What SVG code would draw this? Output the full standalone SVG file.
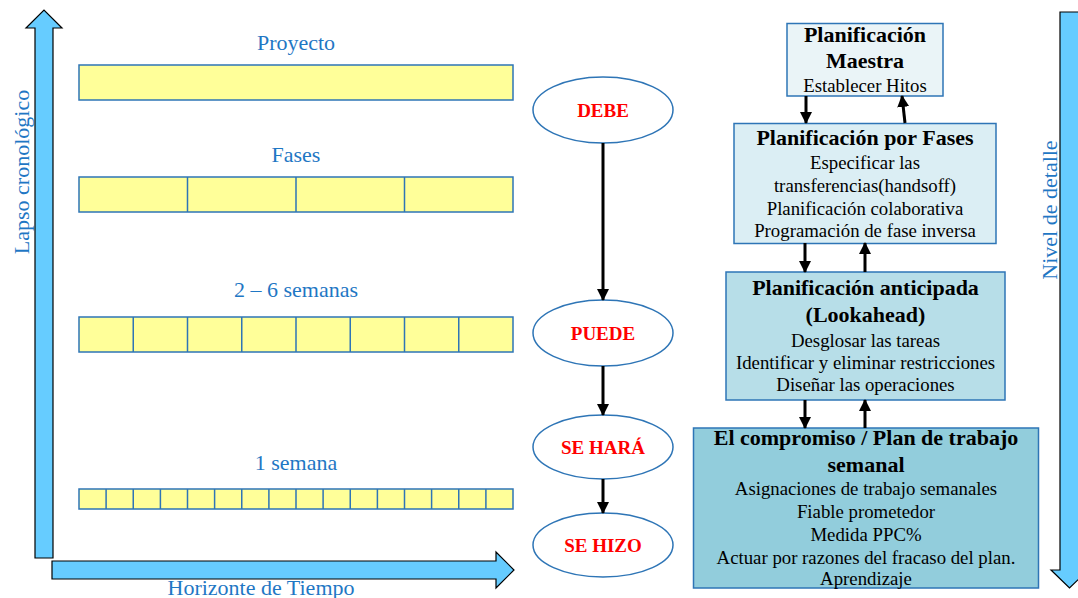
<svg xmlns="http://www.w3.org/2000/svg" width="1078" height="598" viewBox="0 0 1078 598">
  <defs>
    <style>
      .axis { fill: #66CCFF; stroke: #000; stroke-width: 1.2; stroke-linejoin: miter; }
      .lbl { font-family: "Liberation Serif", "Times New Roman", serif; font-size: 22px; fill: #1F77C4; text-anchor: middle; }
      .bar { fill: #FFFF99; stroke: #2E75B6; stroke-width: 1.5; }
      .div { stroke: #2E75B6; stroke-width: 1.5; }
      .ell { fill: #FFFFFF; stroke: #2E75B6; stroke-width: 1.5; }
      .state { font-family: "Liberation Serif", "Times New Roman", serif; font-size: 19px; font-weight: bold; fill: #FF0000; text-anchor: middle; }
      .box { stroke: #2E75B6; stroke-width: 1.5; }
      .ttl { font-family: "Liberation Serif", "Times New Roman", serif; font-size: 22px; font-weight: bold; fill: #000; text-anchor: middle; }
      .txt { font-family: "Liberation Serif", "Times New Roman", serif; font-size: 18.8px; fill: #000; text-anchor: middle; }
      .conn { stroke: #000; stroke-width: 3; fill: none; }
    </style>
    <marker id="ah" viewBox="0 0 12 12" refX="11" refY="6" markerWidth="12" markerHeight="12" markerUnits="userSpaceOnUse" orient="auto">
      <path d="M0,0 L12,6 L0,12 z" fill="#000"/>
    </marker>
  </defs>

  <!-- time axes -->
  <g id="axis-lapso">
    <polygon class="axis" points="35,558 35,28 26,28 44,10 62,28 53,28 53,558"/>
    <text class="lbl" transform="translate(29,172) rotate(-90)">Lapso cronológico</text>
  </g>
  <g id="axis-horizonte">
    <polygon class="axis" points="52,561 496,561 496,552 514,570 496,588 496,579 52,579"/>
    <text class="lbl" x="261" y="595">Horizonte de Tiempo</text>
  </g>
  <g id="axis-nivel">
    <polygon class="axis" points="1060,12 1079,12 1079,570 1088,570 1069.5,588 1051,570 1060,570"/>
    <text class="lbl" font-size="22.5" transform="translate(1057,210) rotate(-90)">Nivel de detalle</text>
  </g>

  <!-- horizon bars -->
  <g id="bar-proyecto">
    <text class="lbl" x="296" y="50">Proyecto</text>
    <rect class="bar" x="79" y="65" width="434" height="35"/>
  </g>
  <g id="bar-fases">
    <text class="lbl" x="296" y="162">Fases</text>
    <rect class="bar" x="79" y="177" width="434" height="35"/>
    <path class="div" d="M187.5,177V212 M296,177V212 M404.5,177V212"/>
  </g>
  <g id="bar-semanas">
    <text class="lbl" x="296" y="297">2 – 6 semanas</text>
    <rect class="bar" x="79" y="317" width="434" height="35"/>
    <path class="div" d="M133.25,317V352 M187.5,317V352 M241.75,317V352 M296,317V352 M350.25,317V352 M404.5,317V352 M458.75,317V352"/>
  </g>
  <g id="bar-semana">
    <text class="lbl" x="296" y="470">1 semana</text>
    <rect class="bar" x="79" y="489" width="434" height="20"/>
    <path class="div" d="M106.1,489V509 M133.25,489V509 M160.4,489V509 M187.5,489V509 M214.6,489V509 M241.75,489V509 M268.9,489V509 M296,489V509 M323.1,489V509 M350.25,489V509 M377.4,489V509 M404.5,489V509 M431.6,489V509 M458.75,489V509 M485.9,489V509"/>
  </g>

  <!-- commitment states -->
  <g id="state-debe">
    <ellipse class="ell" cx="603" cy="110" rx="70" ry="33"/>
    <text class="state" x="603" y="117">DEBE</text>
  </g>
  <g id="state-puede">
    <ellipse class="ell" cx="603" cy="333" rx="70" ry="33"/>
    <text class="state" x="603" y="340">PUEDE</text>
  </g>
  <g id="state-sehara">
    <ellipse class="ell" cx="603" cy="447" rx="70" ry="32"/>
    <text class="state" x="603" y="454">SE HARÁ</text>
  </g>
  <g id="state-sehizo">
    <ellipse class="ell" cx="603" cy="545" rx="70" ry="32"/>
    <text class="state" x="603" y="552">SE HIZO</text>
  </g>

  <!-- planning levels -->
  <g id="plan-maestra">
    <rect class="box" x="787" y="23.5" width="156" height="72.5" fill="#EAF4F7"/>
    <text class="ttl" x="865" y="42">Planificación</text>
    <text class="ttl" x="865" y="68">Maestra</text>
    <text class="txt" x="865" y="92">Establecer Hitos</text>
  </g>
  <g id="plan-fases">
    <rect class="box" x="734" y="123.5" width="262" height="120" fill="#DBEEF4"/>
    <text class="ttl" x="865" y="145">Planificación por Fases</text>
    <text class="txt" x="865" y="169">Especificar las</text>
    <text class="txt" x="865" y="192">transferencias(handsoff)</text>
    <text class="txt" x="865" y="215">Planificación colaborativa</text>
    <text class="txt" x="865" y="237">Programación de fase inversa</text>
  </g>
  <g id="plan-anticipada">
    <rect class="box" x="726" y="272" width="279" height="128" fill="#B7DEE8"/>
    <text class="ttl" x="865.5" y="295">Planificación anticipada</text>
    <text class="ttl" x="865.5" y="322">(Lookahead)</text>
    <text class="txt" x="865.5" y="347">Desglosar las tareas</text>
    <text class="txt" x="865.5" y="369">Identificar y eliminar restricciones</text>
    <text class="txt" x="865.5" y="391">Diseñar las operaciones</text>
  </g>
  <g id="plan-semanal">
    <rect class="box" x="693.5" y="428" width="345" height="160" fill="#92CDDC"/>
    <text class="ttl" x="866" y="445">El compromiso / Plan de trabajo</text>
    <text class="ttl" x="866" y="472">semanal</text>
    <text class="txt" x="866" y="495">Asignaciones de trabajo semanales</text>
    <text class="txt" x="866" y="518">Fiable prometedor</text>
    <text class="txt" x="866" y="541">Medida PPC%</text>
    <text class="txt" x="866" y="564">Actuar por razones del fracaso del plan.</text>
    <text class="txt" x="866" y="585">Aprendizaje</text>
  </g>

  <!-- connectors -->
  <g id="connectors">
    <line class="conn" x1="603" y1="143" x2="603" y2="300" marker-end="url(#ah)"/>
    <line class="conn" x1="603" y1="366" x2="603" y2="415" marker-end="url(#ah)"/>
    <line class="conn" x1="603" y1="479" x2="603" y2="513" marker-end="url(#ah)"/>
    <line class="conn" x1="806" y1="96" x2="806" y2="123" marker-end="url(#ah)"/>
    <line class="conn" x1="905" y1="123" x2="902" y2="96" marker-end="url(#ah)"/>
    <line class="conn" x1="805" y1="243" x2="805" y2="272" marker-end="url(#ah)"/>
    <line class="conn" x1="865" y1="272" x2="865" y2="243" marker-end="url(#ah)"/>
    <line class="conn" x1="805" y1="400" x2="805" y2="428" marker-end="url(#ah)"/>
    <line class="conn" x1="865" y1="428" x2="865" y2="400" marker-end="url(#ah)"/>
  </g>
</svg>
